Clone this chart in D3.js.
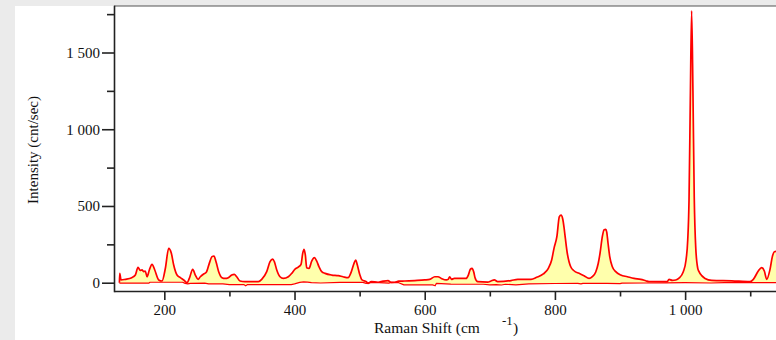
<!DOCTYPE html>
<html>
<head>
<meta charset="utf-8">
<script src="https://cdn.jsdelivr.net/npm/d3@7"></script>
<style>
  html, body { margin: 0; padding: 0; background: #ebebeb; }
  svg { display: block; }
</style>
</head>
<body>
<svg id="chart" width="776" height="340"></svg>
<script>
// Raman spectrum: measured intensity (upper trace) and background trace
const ramanShift = [131,131.5,133.5,140,150,155.5,159.6,163,165.7,168.4,170.8,173.4,177,181.1,185.3,191.4,196.5,201.6,206.7,210.8,214.4,219.5,224.6,229.8,234.9,238.4,243.6,247.6,251.8,255.3,260.5,264.5,269.1,273.3,276.3,279.4,283.5,288.6,293.2,298.3,303.5,307.5,311.2,316.3,324,344.4,349.6,357.3,362.4,366.5,369,372.7,377.7,382.8,390.5,395.7,400.8,405.8,410,412.6,414.6,416.6,418.7,422.3,426.4,430.4,434.1,437.6,441.8,446.9,457.1,467.3,474.5,482.2,487.3,491.4,494,496.5,500.2,503.7,510.3,512.9,518,528.3,536,543.6,548,553.9,560,569.3,584.6,600,607.7,615.4,620.4,625.5,633.2,636,638.4,641,645.5,663.4,667,670,672.7,675.2,677.3,681.4,696.8,701.8,706.9,712.1,732.6,742.9,763.3,772,782.2,789.9,795,798.6,803,806.8,809.4,812,814,816,819,821.7,824.3,829.3,837,844.7,852.4,857.5,862.7,866.5,869.3,872.8,875.4,878,879.6,881.6,884.2,888.2,893.4,901.1,911.2,921.5,931.8,939.5,944.5,972.6,975.3,980.3,985.6,990.6,997.2,1001.4,1004,1006,1008,1010,1012,1014,1016.3,1019.4,1021.4,1025.5,1030.6,1040.8,1071.6,1099.7,1104.8,1112.4,1117.6,1121.7,1125.3,1130.4,1134,1137.1,1142];
const intensity = [0,61,18,22,33,50,100,80,83,72,76,39,83,120,83,18,11,94,224,192,115,50,33,18,0,28,87,50,22,39,57,68,126,170,174,137,72,33,28,33,50,54,39,11,7,7,22,72,137,154,137,83,39,28,39,61,89,102,120,192,218,181,98,94,141,163,141,104,72,61,50,46,39,33,72,126,148,115,54,18,7,-4,7,3,10,14,2,3,10,11,14,18,22,39,39,28,18,22,39,22,28,28,50,87,94,72,33,7,4,11,18,7,14,22,22,35,57,94,148,224,300,431,441,415,360,290,192,137,104,78,61,46,28,40,70,125,192,300,344,348,330,257,170,104,72,50,39,28,22,13,7,7,22,15,18,30,72,148,278,539,1200,1772,1250,560,230,94,72,46,28,15,12,7,22,76,98,76,22,87,170,202,205];

const baseShift = [131,176,178,228,232,236,240,262,268,290,300,322,325,328,395,400,408,414,420,426,440,470,505,510,515,530,545,547,560,568,590,612,616,618,640,690,700,710,718,724,740,760,800,835,840,843,880,900,903,940,970,1000,1040,1060,1100,1142];
const baseIntensity = [-3,-3,3,3,-4,-8,-4,-3,-8,-8,-12,-12,-20,-12,-12,-8,2,6,4,0,-2,2,2,-4,1,0,-3,2,0,-14,-14,-14,-20,-4,-9,-10,-14,-12,-15,-10,-14,-7,-5,-4,-8,-4,-4,-6,-3,-2,-1,0,-2,0,0,0];

// Axis ticks and titles
const xMajorTicks = [200, 400, 600, 800, 1000];
const xMinorTicks = [300, 500, 700, 900, 1100];
const yMajorTicks = [0, 500, 1000, 1500];
const yMinorTicks = [250, 750, 1250, 1750];
const xTitle = "Raman Shift (cm";
const xTitleSup = "-1";
const xTitleClose = ")";
const yTitle = "Intensity (cnt/sec)";

const W = 776, H = 340;
const serif = "'Liberation Serif', 'Times New Roman', serif";
const plot = { left: 114, top: 6, right: 776, bottom: 291 };

const svg = d3.select("#chart");
svg.append("rect").attr("width", W).attr("height", H).attr("fill", "#ebebeb");
svg.append("rect").attr("x", 15).attr("y", 6).attr("width", W - 15).attr("height", H - 6).attr("fill", "#ffffff");

const x = d3.scaleLinear().domain([122.7, 1139.6]).range([plot.left, plot.right]);
const y = d3.scaleLinear().domain([-54, 1803]).range([plot.bottom, plot.top]);

svg.append("clipPath").attr("id", "plot-clip")
  .append("rect")
  .attr("x", plot.left).attr("y", plot.top)
  .attr("width", plot.right - plot.left).attr("height", plot.bottom - plot.top);

const traces = svg.append("g").attr("clip-path", "url(#plot-clip)");

const upperPts = ramanShift.map((s, i) => [x(s), y(intensity[i])]);
const basePts = baseShift.map((s, i) => [x(s), y(baseIntensity[i])]);
const upperLine = d3.line().curve(d3.curveMonotoneX);
const baseLine = d3.line();

// Shaded band between the spectrum and the background trace
const bandPath = upperLine(upperPts) + "L" + baseLine(basePts.slice().reverse()).slice(1) + "Z";
traces.append("path").attr("d", bandPath).attr("fill", "#ffffac").attr("stroke", "none");

traces.append("path").attr("d", baseLine(basePts))
  .attr("fill", "none").attr("stroke", "#ff0000").attr("stroke-width", 1.2)
  .attr("stroke-linejoin", "round");
traces.append("path").attr("d", upperLine(upperPts))
  .attr("fill", "none").attr("stroke", "#ff0000").attr("stroke-width", 1.7)
  .attr("stroke-linejoin", "round");

// Top frame line
svg.append("line")
  .attr("x1", plot.left).attr("x2", plot.right)
  .attr("y1", plot.top).attr("y2", plot.top)
  .attr("stroke", "#555").attr("stroke-width", 1.2);

const fmt = d3.formatLocale({ decimal: ".", thousands: " ", grouping: [3], currency: ["", ""] }).format(",d");

function styleAxis(g) {
  g.attr("font-family", serif).attr("font-size", 15);
  g.selectAll("path, line").attr("stroke", "#222").attr("stroke-width", 1.6);
  g.selectAll("text").attr("fill", "#111");
}

// Y axis
const gy = svg.append("g").attr("transform", `translate(${plot.left},0)`);
gy.call(d3.axisLeft(y).tickValues(yMajorTicks).tickFormat(fmt).tickSize(12).tickSizeOuter(0).tickPadding(2));
const gyMinor = gy.append("g");
gyMinor.call(d3.axisLeft(y).tickValues(yMinorTicks).tickFormat("").tickSize(7).tickSizeOuter(0));
gyMinor.select(".domain").remove();
styleAxis(gy);
gy.select(".domain").attr("stroke-linecap", "square");

// X axis
const gx = svg.append("g").attr("transform", `translate(0,${plot.bottom})`);
gx.call(d3.axisBottom(x).tickValues(xMajorTicks).tickFormat(fmt).tickSize(9).tickSizeOuter(0).tickPadding(4));
const gxMinor = gx.append("g");
gxMinor.call(d3.axisBottom(x).tickValues(xMinorTicks).tickFormat("").tickSize(5.5).tickSizeOuter(0));
gxMinor.select(".domain").remove();
styleAxis(gx);

// Axis titles
svg.append("text")
  .attr("transform", "translate(38,150) rotate(-90)")
  .attr("text-anchor", "middle")
  .attr("font-family", serif).attr("font-size", 15).attr("fill", "#111")
  .text(yTitle);

const xt = svg.append("text")
  .attr("font-family", serif).attr("font-size", 15.5).attr("fill", "#111");
xt.append("tspan").attr("x", 374).attr("y", 333).text(xTitle);
xt.append("tspan").attr("x", 502).attr("y", 325).attr("font-size", 13).text(xTitleSup);
xt.append("tspan").attr("x", 513).attr("y", 333).text(xTitleClose);
</script>
</body>
</html>
